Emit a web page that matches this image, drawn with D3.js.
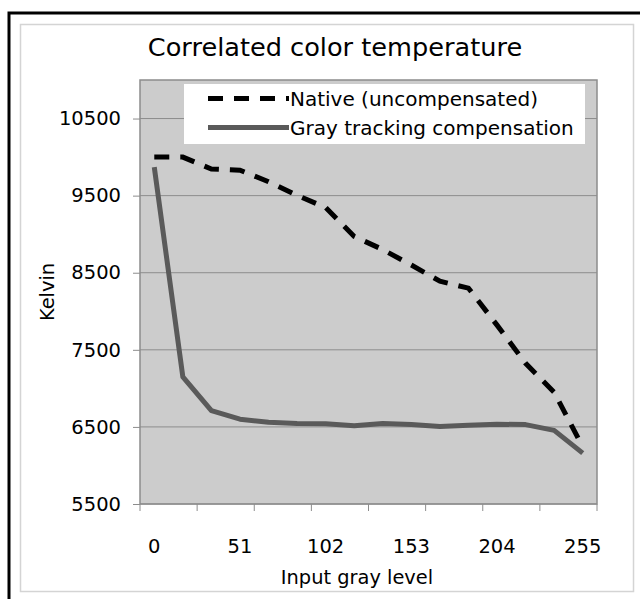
<!DOCTYPE html>
<html>
<head>
<meta charset="utf-8">
<script src="https://cdn.jsdelivr.net/npm/d3@7"></script>
<style>
  body { margin: 0; background: #fff; }
  text { font-family: "DejaVu Sans", sans-serif; fill: #000; }
</style>
</head>
<body>
<div id="chart"></div>
<script>
// gray input levels (16 steps of 17)
const levels = [0, 17, 34, 51, 68, 85, 102, 119, 136, 153, 170, 187, 204, 221, 238, 255]
const labelLevels = [0, 51, 102, 153, 204, 255]
const native = [10000, 10000, 9845, 9830, 9680, 9505, 9345, 8970, 8800, 8600, 8390, 8300, 7820, 7325, 6950, 6240]
const compensated = [9870, 7150, 6710, 6600, 6560, 6545, 6540, 6515, 6545, 6530, 6505, 6520, 6535, 6530, 6455, 6160]
const yTicks = [5500, 6500, 7500, 8500, 9500, 10500]
const seriesNames = ['Native (uncompensated)', 'Gray tracking compensation']

const W = 640
const H = 599
const plot = { left: 140, right: 597, top: 80, bottom: 504 }
const FONT = '"DejaVu Sans", sans-serif'

const svg = d3.select('#chart').append('svg')
  .attr('width', W)
  .attr('height', H)

// frames
svg.append('rect')
  .attr('x', 9).attr('y', 13).attr('width', 700).attr('height', 700)
  .attr('fill', 'none').attr('stroke', '#000').attr('stroke-width', 3)
svg.append('rect')
  .attr('x', 20.5).attr('y', 24.5).attr('width', 613).attr('height', 567)
  .attr('fill', 'none').attr('stroke', '#d4d4d4').attr('stroke-width', 1.5)

const x = d3.scaleBand()
  .domain(levels)
  .range([plot.left, plot.right])

const y = d3.scaleLinear()
  .domain([5500, 11000])
  .range([plot.bottom, plot.top])

const cx = d => x(d) + x.bandwidth() / 2

// plot background
svg.append('rect')
  .attr('x', plot.left).attr('y', plot.top)
  .attr('width', plot.right - plot.left).attr('height', plot.bottom - plot.top)
  .attr('fill', '#cccccc')

// gridlines
svg.append('g')
  .selectAll('line')
  .data(yTicks)
  .enter().append('line')
  .attr('x1', plot.left).attr('x2', plot.right)
  .attr('y1', d => y(d)).attr('y2', d => y(d))
  .attr('stroke', '#8c8c8c').attr('stroke-width', 1)

// plot border
svg.append('rect')
  .attr('x', plot.left).attr('y', plot.top)
  .attr('width', plot.right - plot.left).attr('height', plot.bottom - plot.top)
  .attr('fill', 'none').attr('stroke', '#8c8c8c').attr('stroke-width', 1.5)

// y axis
const yAxis = svg.append('g')
  .attr('transform', 'translate(' + plot.left + ',0)')
  .call(d3.axisLeft(y).tickValues(yTicks).tickSize(7).tickPadding(12).tickFormat(d3.format('d')))
yAxis.select('.domain').remove()
yAxis.selectAll('line').attr('stroke', '#8c8c8c')
yAxis.selectAll('text').attr('font-size', 19.5).attr('font-family', FONT).attr('fill', '#000')

// x axis: labels every 3rd category, tick marks every 2nd band edge
const xAxis = svg.append('g')
  .attr('transform', 'translate(0,' + plot.bottom + ')')
  .call(d3.axisBottom(x).tickValues(labelLevels).tickSize(0).tickPadding(35))
xAxis.select('.domain').remove()
xAxis.selectAll('text').attr('font-size', 19.5).attr('font-family', FONT).attr('fill', '#000')

const edges = levels.filter((d, i) => i % 2 === 0).map(d => x(d)).concat([plot.right])
svg.append('g')
  .selectAll('line')
  .data(edges)
  .enter().append('line')
  .attr('x1', d => d).attr('x2', d => d)
  .attr('y1', plot.bottom).attr('y2', plot.bottom + 7)
  .attr('stroke', '#8c8c8c')

// lines
const line = vals => d3.line()
  .x((d, i) => cx(levels[i]))
  .y(d => y(d))(vals)

svg.append('path')
  .attr('d', line(native))
  .attr('fill', 'none')
  .attr('stroke', '#000')
  .attr('stroke-width', 5)
  .attr('stroke-dasharray', '15,11')

svg.append('path')
  .attr('d', line(compensated))
  .attr('fill', 'none')
  .attr('stroke', '#5a5a5a')
  .attr('stroke-width', 5)
  .attr('stroke-linejoin', 'round')

// legend
const legend = svg.append('g')
legend.append('rect')
  .attr('x', 184).attr('y', 84).attr('width', 401).attr('height', 60)
  .attr('fill', '#fff')
legend.append('line')
  .attr('x1', 208).attr('x2', 289).attr('y1', 98.5).attr('y2', 98.5)
  .attr('stroke', '#000').attr('stroke-width', 5).attr('stroke-dasharray', '15,11')
legend.append('line')
  .attr('x1', 208).attr('x2', 289).attr('y1', 127.5).attr('y2', 127.5)
  .attr('stroke', '#5a5a5a').attr('stroke-width', 5)
legend.selectAll('text.lg')
  .data(seriesNames)
  .enter().append('text')
  .attr('class', 'lg')
  .attr('x', 290)
  .attr('y', (d, i) => 98.5 + i * 29)
  .attr('dy', '0.35em')
  .attr('font-size', 20)
  .text(d => d)

// titles
svg.append('text')
  .attr('x', 335).attr('y', 56)
  .attr('text-anchor', 'middle')
  .attr('font-size', 25.6)
  .text('Correlated color temperature')

svg.append('text')
  .attr('x', 357).attr('y', 584)
  .attr('text-anchor', 'middle')
  .attr('font-size', 19.4)
  .text('Input gray level')

svg.append('text')
  .attr('transform', 'translate(54,292) rotate(-90)')
  .attr('text-anchor', 'middle')
  .attr('font-size', 19.4)
  .text('Kelvin')
</script>
</body>
</html>
